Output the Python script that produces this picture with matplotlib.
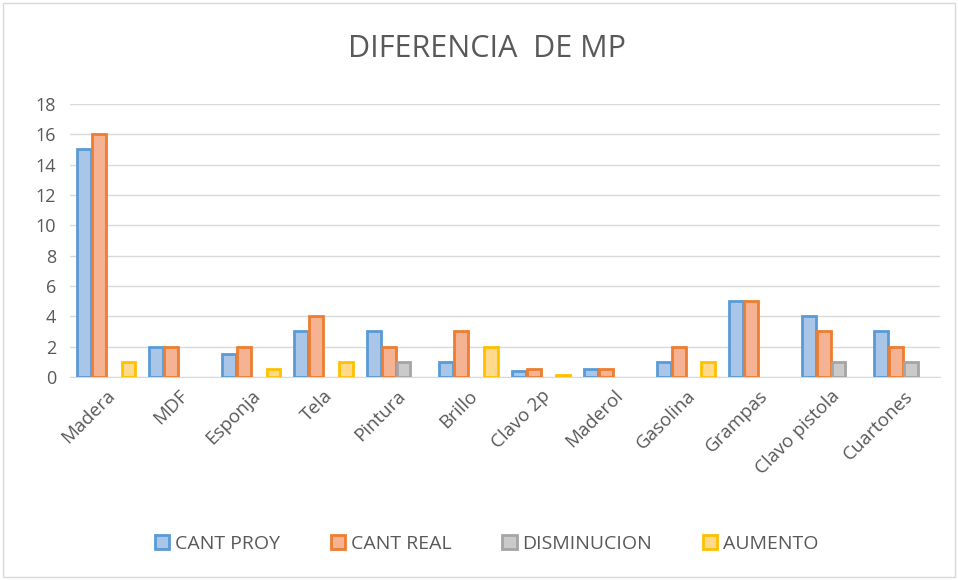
import matplotlib
matplotlib.use("Agg")
import matplotlib.pyplot as plt
import numpy as np
from matplotlib.patches import Rectangle

categories = ["Madera", "MDF", "Esponja", "Tela", "Pintura", "Brillo", "Clavo 2p",
              "Maderol", "Gasolina", "Grampas", "Clavo pistola", "Cuartones"]
cant_proy = [15, 2, 1.5, 3, 3, 1, 0.4, 0.5, 1, 5, 4, 3]
cant_real = [16, 2, 2, 4, 2, 3, 0.5, 0.5, 2, 5, 3, 2]
disminucion = [0, 0, 0, 0, 1, 0, 0, 0, 0, 0, 1, 1]
aumento = [1, 0, 0.5, 1, 0, 2, 0.1, 0, 1, 0, 0, 0]
series_names = ["CANT PROY", "CANT REAL", "DISMINUCION", "AUMENTO"]
yticks = [0, 2, 4, 6, 8, 10, 12, 14, 16, 18]

plt.rcParams['font.family'] = ['Open Sans', 'DejaVu Sans']
txt = "#595959"

fig = plt.figure(figsize=(9.58, 5.8), dpi=100)
ax = fig.add_axes([0.073, 0.35, 0.908, 0.4707])

edges = ["#5B9BD5", "#ED7D31", "#A5A5A5", "#FFC000"]
fills = ["#A9C5E8", "#F5B394", "#CACACA", "#FFD98C"]
data = [cant_proy, cant_real, disminucion, aumento]
x = np.arange(len(categories))
w = 0.205
for i, (vals, name) in enumerate(zip(data, series_names)):
    v = np.array(vals, dtype=float)
    v = np.where(v > 0, v, np.nan)
    ax.bar(x + (i - 1.5) * w, v, width=w * 0.93, color=fills[i],
           edgecolor=edges[i], linewidth=2, label=name, zorder=3)

ax.set_xlim(-0.5, len(categories) - 0.5)
ax.set_ylim(0, 18)
ax.set_yticks(yticks)
ax.set_yticklabels([str(t) for t in yticks], fontsize=13, color=txt)
ax.set_xticks(x)
ax.set_xticklabels(categories, rotation=45, ha="right", rotation_mode="anchor",
                   fontsize=13.5, color=txt)
ax.tick_params(length=0, pad=7)
ax.tick_params(axis="y", pad=10)
ax.grid(axis="y", color="#D9D9D9", linewidth=1, zorder=0)
for s in ["top", "right", "left"]:
    ax.spines[s].set_visible(False)
ax.spines["bottom"].set_color("#D9D9D9")

fig.text(0.508, 0.915, "DIFERENCIA  DE MP", ha="center", va="center",
         fontsize=22, color=txt)

leg = fig.legend(loc="center", bbox_to_anchor=(0.508, 0.062), ncol=4, frameon=False,
                 fontsize=14, handlelength=0.75, handleheight=0.75, columnspacing=2.6,
                 handletextpad=0.3)
for t in leg.get_texts():
    t.set_color(txt)

fig.patches.append(Rectangle((0.003, 0.005), 0.994, 0.99, transform=fig.transFigure,
                             fill=False, edgecolor="#D9D9D9", linewidth=1))

fig.savefig("out.png", dpi=100)
